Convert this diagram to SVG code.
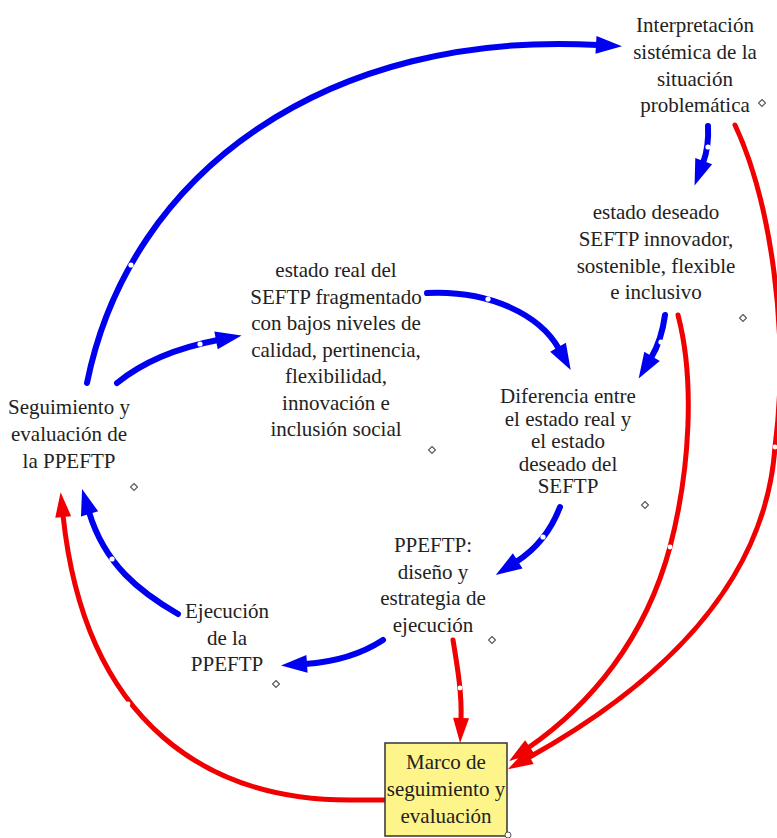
<svg xmlns="http://www.w3.org/2000/svg" width="777" height="838" viewBox="0 0 777 838">
  <style>
    text { font-family: "Liberation Serif", "Times New Roman", serif; font-size: 21px; fill: #222; text-anchor: middle; }
    .blue { fill: none; stroke: #0000f0; stroke-width: 6; stroke-linecap: round; marker-end: url(#ab); }
    .red { fill: none; stroke: #f00000; stroke-width: 5; stroke-linecap: round; marker-end: url(#ar); }
    .dot { fill: #fff; stroke: none; }
    .dia { fill: #fff; stroke: #555; stroke-width: 1.1; }
    .box { fill: #fdf48a; stroke: #333; stroke-width: 1.5; }
  </style>
  <defs>
    <marker id="ab" markerUnits="userSpaceOnUse" viewBox="-2 -12 30 24" refX="0" refY="0" markerWidth="30" markerHeight="24" orient="auto" overflow="visible">
      <path d="M-2,-9 L24,0 L-2,9 z" fill="#0000f0"/>
    </marker>
    <marker id="ar" markerUnits="userSpaceOnUse" viewBox="-2 -12 30 24" refX="0" refY="0" markerWidth="30" markerHeight="24" orient="auto" overflow="visible">
      <path d="M-2,-8 L23,0 L-2,8 z" fill="#f00000"/>
    </marker>
    <path id="dm" d="M0,-3.5 L3.5,0 L0,3.5 L-3.5,0 z"/>
  </defs>
  <rect width="777" height="838" fill="#fff"/>

  <g id="connectors">
    <path class="blue" d="M87,383 C130,170 330,30 598,45"/>
    <circle class="dot" cx="131" cy="265" r="2.6"/>
    <path class="blue" d="M117,383 Q155,352 218,340"/>
    <circle class="dot" cx="200" cy="344" r="2.6"/>
    <path class="blue" d="M427,293 C490,290 540,315 559,349"/>
    <circle class="dot" cx="488" cy="299" r="2.6"/>
    <path class="blue" d="M708,126 C709,145 706,155 703,163"/>
    <circle class="dot" cx="708" cy="147" r="2.6"/>
    <path class="blue" d="M665,315 C663,330 660,343 651,358"/>
    <circle class="dot" cx="661" cy="342" r="2.6"/>
    <path class="blue" d="M560,507 C552,528 538,548 516,562"/>
    <circle class="dot" cx="543" cy="537" r="2.6"/>
    <path class="blue" d="M383,640 C360,655 335,662 305,664"/>
    <path class="blue" d="M178,614 C140,592 105,565 89,512"/>
    <circle class="dot" cx="112" cy="559" r="2.6"/>

    <path class="red" d="M735,125 C770,200 790,330 775,447 C765,590 650,690 528,758"/>
    <circle class="dot" cx="775" cy="447" r="2.4"/>
    <path class="red" d="M678,315 C695,380 690,470 670,547 C645,640 590,705 528,748"/>
    <circle class="dot" cx="670" cy="547" r="2.4"/>
    <path class="red" d="M453,640 C458,670 462,695 461,720"/>
    <circle class="dot" cx="460" cy="688" r="2.4"/>
    <path class="red" d="M385,800 L355,800 C210,802 85,725 63,515"/>
    <circle class="dot" cx="128" cy="704" r="2.4"/>
  </g>

  <g id="interpretacion">
    <text x="695" y="32">Interpretación</text>
    <text x="695" y="59">sistémica de la</text>
    <text x="695" y="86">situación</text>
    <text x="695" y="112">problemática</text>
    <use href="#dm" class="dia" x="762" y="103"/>
  </g>
  <g id="estado-deseado">
    <text x="656" y="219">estado deseado</text>
    <text x="656" y="246">SEFTP innovador,</text>
    <text x="656" y="273">sostenible, flexible</text>
    <text x="656" y="299">e inclusivo</text>
    <use href="#dm" class="dia" x="743" y="318"/>
  </g>
  <g id="estado-real">
    <text x="336" y="277">estado real del</text>
    <text x="336" y="303.5">SEFTP fragmentado</text>
    <text x="336" y="330">con bajos niveles de</text>
    <text x="336" y="356.5">calidad, pertinencia,</text>
    <text x="336" y="383">flexibilidad,</text>
    <text x="336" y="409.5">innovación e</text>
    <text x="336" y="436">inclusión social</text>
    <use href="#dm" class="dia" x="432" y="450"/>
  </g>
  <g id="diferencia">
    <text x="568" y="403">Diferencia entre</text>
    <text x="568" y="425.5">el estado real y</text>
    <text x="568" y="448">el estado</text>
    <text x="568" y="470.5">deseado del</text>
    <text x="568" y="493">SEFTP</text>
    <use href="#dm" class="dia" x="645" y="505"/>
  </g>
  <g id="seguimiento">
    <text x="69" y="414">Seguimiento y</text>
    <text x="69" y="441">evaluación de</text>
    <text x="69" y="468">la PPEFTP</text>
    <use href="#dm" class="dia" x="134" y="487"/>
  </g>
  <g id="ppeftp">
    <text x="433" y="552">PPEFTP:</text>
    <text x="433" y="578.5">diseño y</text>
    <text x="433" y="605">estrategia de</text>
    <text x="433" y="631.5">ejecución</text>
    <use href="#dm" class="dia" x="492" y="640"/>
  </g>
  <g id="ejecucion">
    <text x="227" y="618">Ejecución</text>
    <text x="227" y="645">de la</text>
    <text x="227" y="671">PPEFTP</text>
    <use href="#dm" class="dia" x="276" y="684"/>
  </g>
  <g id="marco">
    <rect class="box" x="385" y="743" width="122" height="93"/>
    <text x="446" y="769">Marco de</text>
    <text x="446" y="796">seguimiento y</text>
    <text x="446" y="823">evaluación</text>
    <circle cx="508" cy="835" r="3" fill="#fff" stroke="#555" stroke-width="1"/>
  </g>
</svg>
